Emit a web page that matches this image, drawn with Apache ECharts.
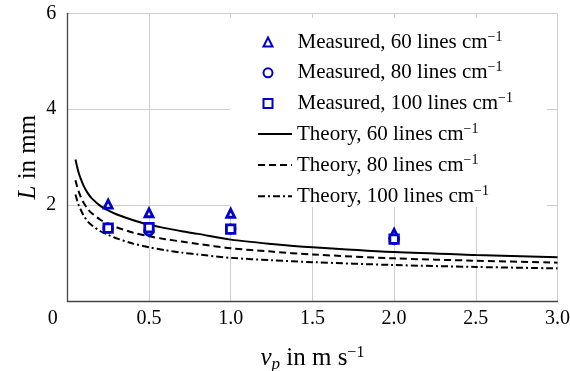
<!DOCTYPE html>
<html>
<head>
<meta charset="utf-8">
<script src="https://cdn.jsdelivr.net/npm/echarts@6/dist/echarts.min.js"></script>
<style>
html,body{margin:0;padding:0;background:#fff;}
#c{width:570px;height:371px;}
</style>
</head>
<body>
<div id="c"></div>
<script>
// Measured points
var measX = [0.25, 0.5, 1.0, 2.0];
var meas60 = [2.02, 1.84, 1.83, 1.41];
var meas80 = [1.52, 1.46, 1.50, 1.28];
var meas100 = [1.52, 1.53, 1.50, 1.29];

// Theory curves
var theoryX   = [0.05, 0.06, 0.07, 0.08, 0.1, 0.125, 0.15, 0.2, 0.25, 0.3, 0.4, 0.5, 0.6, 0.7, 0.8, 1.0, 1.25, 1.5, 2.0, 2.5, 3.0];
var theory60  = [2.95, 2.80, 2.67, 2.57, 2.40, 2.25, 2.14, 1.99, 1.89, 1.81, 1.69, 1.59, 1.52, 1.455, 1.40, 1.28, 1.19, 1.12, 1.02, 0.96, 0.91];
var theory80  = [2.52, 2.39, 2.28, 2.19, 2.05, 1.92, 1.83, 1.70, 1.61, 1.54, 1.43, 1.35, 1.29, 1.24, 1.19, 1.10, 1.03, 0.97, 0.89, 0.84, 0.80];
var theory100 = [2.22, 2.10, 2.00, 1.92, 1.78, 1.66, 1.58, 1.46, 1.38, 1.31, 1.20, 1.12, 1.06, 1.01, 0.97, 0.90, 0.85, 0.81, 0.75, 0.71, 0.68];

var measNames = [
  'Measured, 60 lines cm{sup|\u22121}',
  'Measured, 80 lines cm{sup|\u22121}',
  'Measured, 100 lines cm{sup|\u22121}'
];
var theoryNames = [
  'Theory, 60 lines cm{sup|\u22121}',
  'Theory, 80 lines cm{sup|\u22121}',
  'Theory, 100 lines cm{sup|\u22121}'
];

function pairs(xs, ys){ return xs.map(function(x,i){ return [x, ys[i]]; }); }

var FONT = 'Liberation Serif';
var BLUE = '#0000cc';
var chart = echarts.init(document.getElementById('c'), null, {renderer:'canvas'});

function scatter(name, sym, ys, size){
  return {
    name: name, type: 'scatter', symbol: sym, symbolSize: size,
    data: pairs(measX, ys),
    itemStyle: {color: '#fff', borderColor: BLUE, borderWidth: 2.8, opacity: 1},
    z: 5
  };
}
function line(name, ys, type){
  return {
    name: name, type: 'line', symbol: 'none', showSymbol: false,
    smooth: 0.3,
    data: pairs(theoryX, ys),
    lineStyle: {color: '#000', width: 2, type: type},
    itemStyle: {color: '#000'},
    z: 4
  };
}

var legendText = {fontFamily: FONT, fontSize: 21, color: '#000',
  rich: {sup: {fontFamily: FONT, fontSize: 14, color: '#000', verticalAlign: 'top', padding:[0,0,10,0]}}};

chart.setOption({
  animation: false,
  backgroundColor: '#fff',
  grid: {left: 67.3, right: 12.5, top: 13.3, bottom: 70, containLabel: false, outerBoundsMode: 'none'},
  graphic: [{
    type: 'rect', z: 3,
    shape: {x: 230, y: 18, width: 317, height: 189},
    style: {fill: '#fff'}
  }],
  legend: [{
    orient: 'vertical', left: 262.5, top: 30, padding: 0,
    itemWidth: 9, itemHeight: 9, itemGap: 8.3,
    z: 6,
    data: measNames,
    textStyle: Object.assign({padding: [0, 0, 0, 20]}, legendText)
  }, {
    orient: 'vertical', left: 257, top: 122, padding: 0,
    itemWidth: 34, itemHeight: 11, itemGap: 8.6,
    z: 6,
    data: theoryNames,
    itemStyle: {color: 'rgba(0,0,0,0)', borderColor: 'rgba(0,0,0,0)', opacity: 0},
    textStyle: legendText
  }],
  xAxis: {
    type: 'value', min: 0, max: 3, interval: 0.5,
    name: '{i|v}{sub|p} in m s{sup|\u22121}',
    nameLocation: 'middle', nameGap: 43,
    nameTextStyle: {fontFamily: FONT, fontSize: 25, color: '#000',
      rich: {
        i: {fontFamily: FONT, fontSize: 25, fontStyle: 'italic', color: '#000'},
        sub: {fontFamily: FONT, fontSize: 17, fontStyle: 'italic', color: '#000', padding: [12,0,0,0]},
        sup: {fontFamily: FONT, fontSize: 16, color: '#000', padding: [0,0,12,0]}
      }},
    axisLine: {show: true, lineStyle: {color: '#444', width: 1.3}},
    axisTick: {show: false},
    splitLine: {show: true, lineStyle: {color: '#cfcfcf', width: 1}},
    axisLabel: {
      fontFamily: FONT, fontSize: 20, color: '#000', margin: 8,
      formatter: function(v){ return v === 0 ? '{z|0}' : v.toFixed(1); },
      rich: {z: {fontFamily: FONT, fontSize: 20, color: '#000', padding: [0, 29, 0, 0]}}
    }
  },
  yAxis: {
    type: 'value', min: 0, max: 6, interval: 2,
    name: '{i|L} in mm',
    nameLocation: 'middle', nameGap: 26, nameRotate: 90, nameMoveOverlap: false,
    nameTextStyle: {fontFamily: FONT, fontSize: 25, color: '#000',
      rich: {i: {fontFamily: FONT, fontSize: 25, fontStyle: 'italic', color: '#000'}}},
    axisLine: {show: true, lineStyle: {color: '#444', width: 1.3}},
    axisTick: {show: false},
    splitLine: {show: true, lineStyle: {color: '#cfcfcf', width: 1}},
    axisLabel: {
      fontFamily: FONT, fontSize: 20, color: '#000', margin: 11,
      formatter: function(v){ return v === 0 ? '' : String(v); }
    }
  },
  series: [
    scatter(measNames[0], 'triangle', meas60, 8),
    scatter(measNames[1], 'circle', meas80, 8.5),
    scatter(measNames[2], 'rect', meas100, 8.5),
    line(theoryNames[0], theory60, 'solid'),
    line(theoryNames[1], theory80, [7, 4]),
    line(theoryNames[2], theory100, [7, 3, 2, 3])
  ]
});
</script>
</body>
</html>
